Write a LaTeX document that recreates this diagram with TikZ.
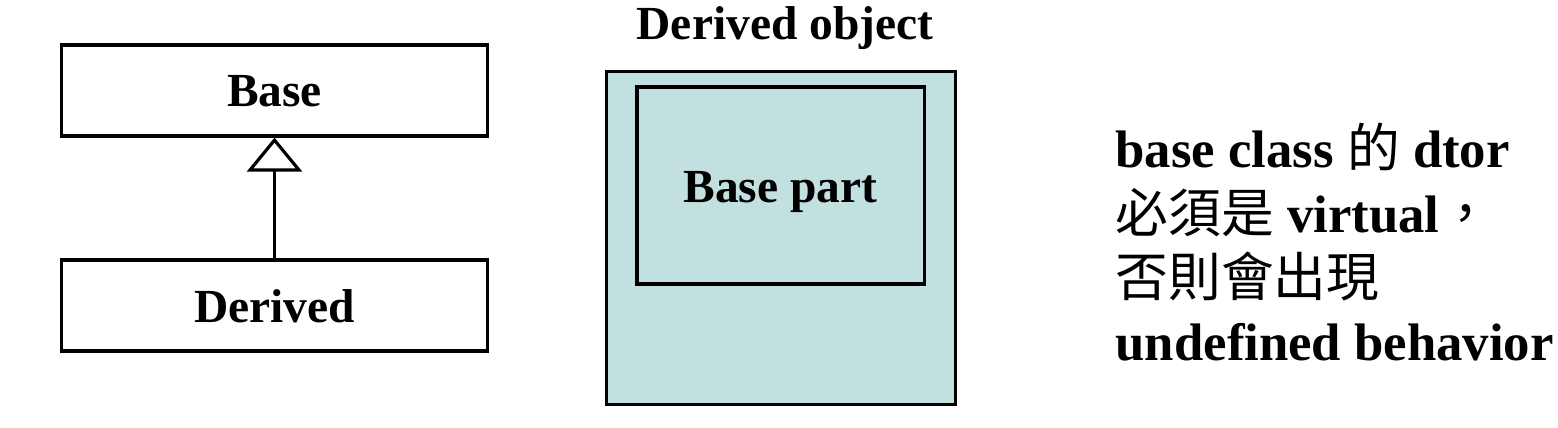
\documentclass[tikz,border=0pt]{standalone}
\usepackage{fontspec}
\setmainfont{Liberation Serif}
\newfontfamily\cjk{Noto Sans CJK TC}
\usetikzlibrary{arrows.meta}
\definecolor{partfill}{RGB}{195,224,225}
\newcommand{\zh}[1]{{\cjk\mdseries #1}}

\begin{document}
\begin{tikzpicture}[x=0.01cm, y=-0.01cm, line width=0.9pt,
    klasse/.style={draw, minimum width=4.25cm, minimum height=0.91cm,
      text height=0.33cm, text depth=0pt, font=\fontsize{13.5}{16}\selectfont\bfseries},
    erbt/.style={-{Triangle[open, length=0.34cm, width=0.55cm]}},
    teil/.style={draw, fill=partfill, text height=0.33cm, text depth=0pt,
      font=\fontsize{13.5}{16}\selectfont\bfseries},
    nota/.style={anchor=base west, inner sep=0pt, font=\fontsize{15}{18}\selectfont\bfseries}]
  \useasboundingbox (0,0) rectangle (1558,428);
  % class diagram
  \node[klasse] (base) at (274.5,90.5) {Base};
  \node[klasse] (derived) at (274.5,305.5) {Derived};
  \draw[erbt] (derived) -- (base);
  % object layout
  \node[teil, minimum width=3.48cm, minimum height=3.32cm] (obj) at (781,238) {};
  \node[teil, minimum width=2.87cm, minimum height=1.97cm] (part) at (780.5,185.5) {Base part};
  \node[anchor=base, font=\fontsize{13.5}{16}\selectfont\bfseries] (objtitle) at (785,40) {Derived object};
  % note
  \foreach \i/\zeile in {0/{base class \zh{的} dtor}, 1/{\zh{必須是} virtual\zh{，}},
      2/{\zh{否則會出現}}, 3/{undefined behavior}}
    \node[nota] (note\i) at (1114,168+64.3*\i) {\zeile};
\end{tikzpicture}
\end{document}
